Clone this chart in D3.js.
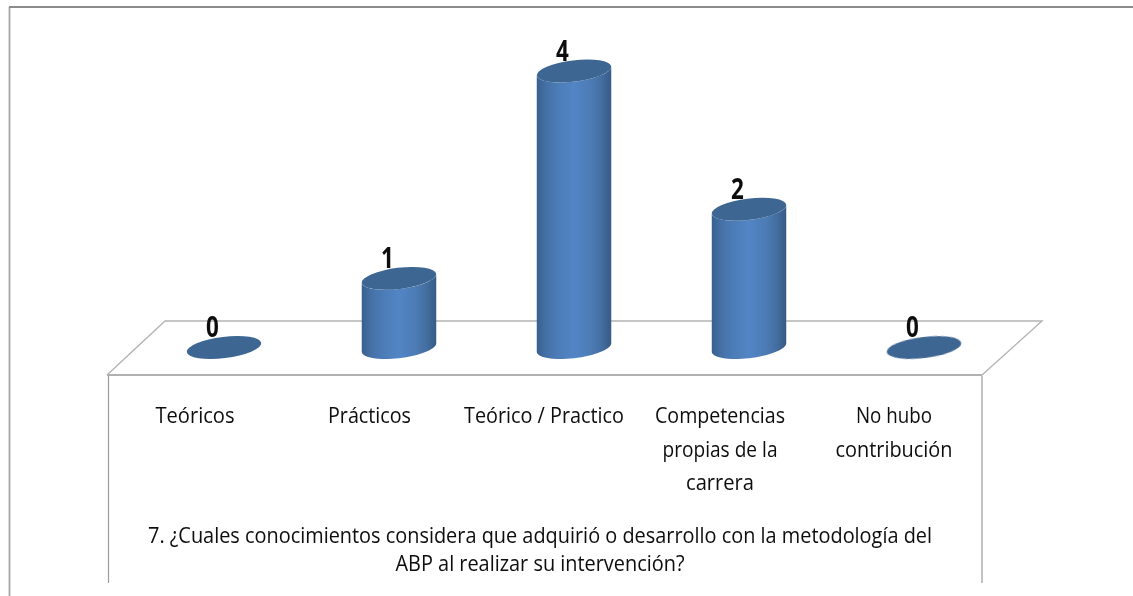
<!DOCTYPE html>
<html><head><meta charset="utf-8">
<style>html,body{margin:0;padding:0;background:#fff}svg{display:block}text{font-family:"Open Sans","Noto Sans",sans-serif;fill:#0c0c0c}</style>
<script src="https://cdn.jsdelivr.net/npm/d3@7/dist/d3.min.js"></script>
</head><body><svg id="c" width="1133" height="596"></svg>
<script>
const categories=["Teóricos","Prácticos","Teórico / Practico","Competencias propias de la carrera","No hubo contribución"];
const values=[0,1,4,2,0];
const categoryLines=[["Teóricos"],["Prácticos"],["Teórico / Practico"],["Competencias","propias de la","carrera"],["No hubo","contribución"]];
const labelWidths=[[79],[83],[160],[130,115,68],[76,117]];
const labelCenters=[195,369.5,544,720,894];
const titleLines=["7. ¿Cuales conocimientos considera que adquirió o desarrollo con la metodología del","ABP al realizar su intervención?"];
const titleWidths=[784,289];

const svg=d3.select("#c");
const x=d3.scalePoint().domain(categories).range([224,924]);
const y=d3.scaleLinear().domain([0,4]).range([347.5,71]);
const rx=37.5,ry=10.6,ang=-7*Math.PI/180;

const defs=svg.append("defs");
const g=defs.append("linearGradient").attr("id","cyl");
[[0,"#38608c"],[.12,"#4470a6"],[.3,"#4d7db8"],[.5,"#5285c5"],[.72,"#4d7cb6"],[.88,"#426d9f"],[1,"#365a84"]]
 .forEach(([o,c])=>g.append("stop").attr("offset",o).attr("stop-color",c));
defs.append("filter").attr("id","soft").append("feGaussianBlur").attr("stdDeviation",.5);
defs.append("filter").attr("id","textsoft").append("feGaussianBlur").attr("stdDeviation",.3);

const pt=(cx,cy,t)=>[cx+rx*Math.cos(t)*Math.cos(ang)-ry*Math.sin(t)*Math.sin(ang),
                     cy+rx*Math.cos(t)*Math.sin(ang)+ry*Math.sin(t)*Math.cos(ang)];
const t0=Math.atan2(-ry*Math.sin(ang),rx*Math.cos(ang));
const line=d3.line();

// frame
const frame=svg.append("g").attr("fill","none");
frame.append("path").attr("d","M9.5,596V7").attr("stroke","#a6a6a6").attr("stroke-width",1.8);
frame.append("path").attr("d","M9,7H1133").attr("stroke","#8c8c8c").attr("stroke-width",1.8);
const floor=svg.append("g").attr("fill","none");
floor.append("path").attr("d","M107,375L165,321H1042L982,375").attr("stroke","#b4b4b4").attr("stroke-width",1.4);
floor.append("path").attr("d","M107,375H982").attr("stroke","#b0b0b0").attr("stroke-width",2);
floor.append("path").attr("d","M108.5,376V583M982,376V583").attr("stroke","#9c9c9c").attr("stroke-width",1.2);

// cylinders
const marks=svg.append("g").attr("filter","url(#soft)");
categories.forEach((c,i)=>{
  const cx=x(c),top=y(values[i]),base=y(0);
  if(values[i]>0){
    const pts=[];
    d3.range(0,33).forEach(k=>pts.push(pt(cx,base,t0+Math.PI*k/32)));
    d3.range(0,33).forEach(k=>pts.push(pt(cx,top,t0+Math.PI-Math.PI*k/32)));
    marks.append("path").attr("d",line(pts)+"Z").attr("fill","url(#cyl)");
  }
  marks.append("ellipse").attr("cx",cx).attr("cy",top).attr("rx",rx).attr("ry",ry)
    .attr("transform",`rotate(${ang*180/Math.PI} ${cx} ${top})`).attr("fill","#3d6692");
});

const texts=svg.append("g").attr("filter","url(#textsoft)");
function fit(t,w){return t.attr("textLength",w).attr("lengthAdjust","spacingAndGlyphs");}
// value labels
categories.forEach((c,i)=>{
  const lx=x(c)-11.5,ly=y(values[i])-10.5;
  texts.append("text").attr("text-anchor","middle").attr("font-size",28).attr("font-weight",700)
    .attr("transform",`translate(${lx},${ly}) scale(.8,1)`).text(values[i]);
});
// category labels
categoryLines.forEach((ls,i)=>{
  ls.forEach((s,j)=>{
    const t=texts.append("text").attr("x",labelCenters[i]-labelWidths[i][j]/2).attr("y",423+j*33.5).attr("font-size",22).text(s);
    fit(t,labelWidths[i][j]);
  });
});
// title
titleLines.forEach((s,j)=>{
  const t=texts.append("text").attr("x",540-titleWidths[j]/2).attr("y",542.5+j*28.5).attr("font-size",22).text(s);
  fit(t,titleWidths[j]);
});
</script></body></html>
